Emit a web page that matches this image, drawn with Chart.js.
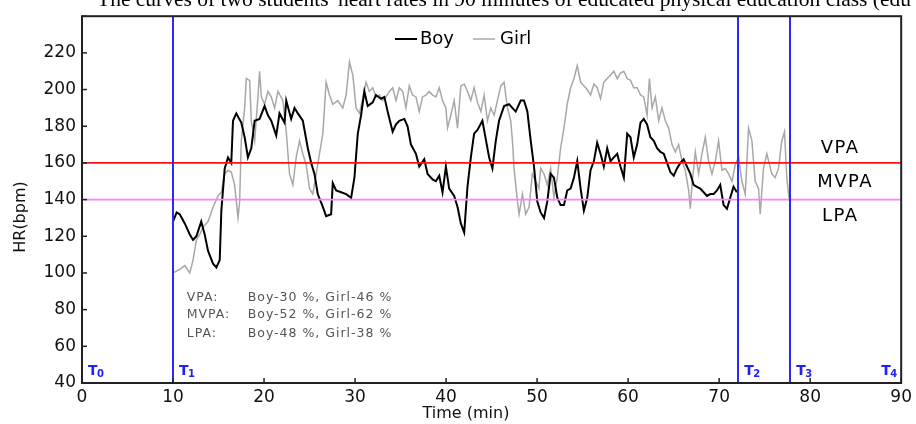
<!DOCTYPE html>
<html>
<head>
<meta charset="utf-8">
<script src="https://cdn.jsdelivr.net/npm/chart.js@4.4.1/dist/chart.umd.min.js"></script>
<style>
  body { margin: 0; background: #fff; }
  canvas { display: block; }
</style>
</head>
<body>
<canvas id="chart" width="916" height="424"></canvas>
<script>
// heart rate curves (time in min, HR in bpm)
const boyTime = [10.0, 10.4, 10.74, 11.29, 11.84, 12.2, 12.57, 13.1, 13.48, 13.85, 14.4, 14.76, 15.13, 15.31, 15.68, 16.04, 16.4, 16.59, 16.95, 17.5,
  17.87, 18.23, 18.6, 18.97, 19.51, 20.06, 20.43, 20.79, 21.34, 21.7, 22.25, 22.44, 22.98, 23.35, 23.72, 24.26, 24.81, 25.18, 25.54, 25.9,
  26.46, 26.82, 27.37, 27.55, 27.92, 28.47, 29.02, 29.57, 29.93, 30.3, 30.66, 31.02, 31.39, 31.94, 32.3, 32.85, 33.22, 33.58, 34.13, 34.5,
  34.86, 35.41, 35.77, 36.14, 36.69, 37.05, 37.6, 37.97, 38.52, 38.88, 39.25, 39.61, 39.98, 40.34, 40.89, 41.26, 41.62, 41.99, 42.35, 42.72,
  43.08, 43.45, 43.99, 44.36, 44.73, 45.09, 45.46, 45.82, 46.37, 46.92, 47.65, 48.2, 48.56, 48.93, 49.3, 49.66, 50.02, 50.39, 50.76, 51.12,
  51.49, 51.85, 52.22, 52.58, 52.95, 53.31, 53.68, 54.05, 54.41, 54.78, 55.14, 55.51, 55.87, 56.24, 56.6, 56.97, 57.33, 57.7, 58.07, 58.43,
  58.8, 59.16, 59.53, 59.9, 60.26, 60.62, 60.99, 61.36, 61.72, 62.08, 62.45, 62.82, 63.18, 63.55, 63.91, 64.28, 64.64, 65.01, 65.37, 65.74,
  66.1, 66.47, 66.84, 67.2, 67.56, 67.93, 68.3, 68.66, 69.03, 69.39, 69.76, 70.12, 70.49, 70.86, 71.22, 71.58, 71.95];
const boyHR = [128, 133, 132, 127, 121, 118, 120, 128, 121, 112, 105, 103, 107, 134, 157, 163, 160, 183, 187, 182,
  174, 163, 168, 183, 184, 191, 186, 183, 175, 187, 182, 194, 184, 190, 187, 183, 168, 160, 154, 143,
  136, 131, 132, 149, 145, 144, 143, 141, 152, 176, 186, 199, 191, 193, 197, 195, 196, 188, 177, 181,
  183, 184, 180, 170, 165, 158, 162, 154, 151, 150, 153, 144, 158, 146, 142, 136, 127, 122, 147, 163,
  176, 178, 183, 173, 163, 157, 172, 183, 191, 192, 188, 194, 194, 188, 172, 158, 139, 133, 130, 139,
  154, 152, 141, 137, 137, 145, 146, 152, 161, 146, 134, 141, 156, 161, 171, 165, 158, 168, 161, 163,
  165, 158, 152, 176, 174, 163, 170, 182, 184, 181, 174, 172, 168, 166, 165, 160, 155, 153, 157, 160,
  162, 158, 154, 148, 147, 146, 144, 142, 143, 143, 145, 148, 137, 135, 141, 147, 144];

const girlTime = [10.0, 10.74, 11.29, 11.84, 12.2, 12.57, 12.94, 13.3, 13.85, 14.4, 14.95, 15.31, 15.68, 16.04, 16.4, 16.77, 17.14, 17.32, 17.5, 17.87,
  18.05, 18.42, 18.6, 18.97, 19.33, 19.51, 19.7, 20.06, 20.43, 20.79, 21.16, 21.53, 22.07, 22.44, 22.8, 23.17, 23.53, 23.9, 24.26, 24.63,
  25.0, 25.36, 25.73, 26.09, 26.46, 26.82, 27.19, 27.55, 28.1, 28.65, 29.02, 29.38, 29.75, 30.11, 30.48, 30.84, 31.21, 31.57, 31.94, 32.3,
  32.67, 33.03, 33.4, 33.77, 34.13, 34.5, 34.86, 35.23, 35.59, 35.96, 36.32, 36.69, 37.05, 37.42, 37.79, 38.15, 38.52, 38.88, 39.25, 39.61,
  39.98, 40.16, 40.52, 40.89, 41.26, 41.62, 41.99, 42.35, 42.72, 43.08, 43.45, 43.82, 44.18, 44.55, 44.91, 45.28, 45.64, 46.01, 46.37, 46.74,
  47.1, 47.29, 47.47, 47.84, 48.02, 48.39, 48.75, 49.12, 49.48, 49.85, 50.2, 50.39, 50.76, 51.12, 51.49, 51.85, 52.22, 52.58, 52.95, 53.31,
  53.68, 54.05, 54.41, 54.78, 55.14, 55.51, 55.87, 56.24, 56.6, 56.97, 57.33, 57.7, 58.07, 58.43, 58.8, 59.16, 59.53, 59.9, 60.26, 60.62,
  60.99, 61.36, 61.72, 62.08, 62.34, 62.63, 62.99, 63.36, 63.72, 64.09, 64.46, 64.82, 65.19, 65.55, 65.92, 66.28, 66.65, 66.83, 67.02, 67.38,
  67.75, 68.11, 68.48, 68.84, 69.21, 69.58, 69.94, 70.31, 70.67, 71.04, 71.41, 71.77, 72.14, 72.5, 72.87, 73.23, 73.6, 73.96, 74.33, 74.51,
  74.87, 75.24, 75.79, 76.15, 76.52, 76.88, 77.18, 77.43, 77.72];
const girlHR = [100, 102, 104, 100, 107, 118, 121, 125, 128, 136, 142, 144, 154, 156, 155, 148, 130, 139, 172, 190,
  206, 205, 183, 172, 196, 210, 196, 192, 199, 196, 190, 199, 194, 177, 154, 148, 163, 172, 165, 159,
  146, 143, 154, 165, 176, 204, 197, 192, 194, 190, 197, 215, 208, 190, 187, 195, 204, 199, 201, 196,
  197, 194, 196, 199, 201, 194, 201, 199, 190, 202, 197, 196, 188, 196, 197, 199, 197, 196, 201, 194,
  190, 179, 186, 194, 179, 202, 203, 199, 194, 201, 193, 188, 197, 183, 190, 186, 194, 202, 204, 190,
  183, 172, 157, 139, 132, 143, 132, 136, 154, 150, 146, 157, 154, 148, 157, 141, 152, 168, 179, 192,
  201, 206, 213, 204, 202, 200, 197, 203, 201, 195, 204, 206, 208, 210, 206, 209, 210, 206, 205, 201,
  201, 197, 196, 186, 206, 190, 196, 183, 190, 183, 179, 170, 166, 170, 161, 156, 145, 135, 148, 166,
  154, 165, 174, 161, 154, 161, 172, 156, 157, 154, 150, 159, 163, 150, 143, 179, 172, 150, 146, 132,
  157, 165, 154, 152, 157, 172, 177, 152, 139];

const phaseLines = [10, 72.1, 77.8];          // T1, T2, T3
const phaseNames = ['0', '1', '2', '3', '4'];
const phaseAt = [0, 10, 72.1, 77.8, 90];
const vpaLevel = 160;
const lpaLevel = 140;
const zoneNames = ['VPA', 'MVPA', 'LPA'];
const zoneY = [168, 149.5, 131];
const shareRows = [
  ['VPA:', 'Boy-30 %, Girl-46 %'],
  ['MVPA:', 'Boy-52 %, Girl-62 %'],
  ['LPA:', 'Boy-48 %, Girl-38 %']
];
const shareY = [86.5, 77, 67];

const toPoints = (xs, ys) => xs.map((t, i) => ({x: t, y: ys[i]}));

const FONT = '"DejaVu Sans", sans-serif';

const extras = {
  id: 'extras',
  afterDatasetsDraw(chart) {
    const {ctx, chartArea: a, scales: {x, y}} = chart;
    ctx.save();
    ctx.lineWidth = 1.6;
    ctx.strokeStyle = '#ff1010';
    ctx.beginPath();
    ctx.moveTo(a.left, y.getPixelForValue(vpaLevel));
    ctx.lineTo(a.right, y.getPixelForValue(vpaLevel));
    ctx.stroke();
    ctx.strokeStyle = '#ff80ff';
    ctx.beginPath();
    ctx.moveTo(a.left, y.getPixelForValue(lpaLevel));
    ctx.lineTo(a.right, y.getPixelForValue(lpaLevel));
    ctx.stroke();
    ctx.strokeStyle = '#2a2aff';
    ctx.lineWidth = 2;
    phaseLines.forEach(t => {
      const px = Math.round(x.getPixelForValue(t));
      ctx.beginPath();
      ctx.moveTo(px, a.top);
      ctx.lineTo(px, a.bottom);
      ctx.stroke();
    });
    ctx.restore();
  },
  afterDraw(chart) {
    const {ctx, chartArea: a, scales: {x, y}} = chart;
    ctx.save();

    // frame and inward ticks
    ctx.strokeStyle = '#222';
    ctx.lineWidth = 2;
    ctx.strokeRect(a.left, a.top, a.right - a.left, a.bottom - a.top);
    ctx.lineWidth = 1.5;
    x.ticks.forEach(tk => {
      const px = x.getPixelForValue(tk.value);
      ctx.beginPath();
      ctx.moveTo(px, a.bottom);
      ctx.lineTo(px, a.bottom - 5);
      ctx.stroke();
    });
    y.ticks.forEach(tk => {
      const py = y.getPixelForValue(tk.value);
      ctx.beginPath();
      ctx.moveTo(a.left, py);
      ctx.lineTo(a.left + 5, py);
      ctx.stroke();
    });

    // cut-off caption at the very top
    ctx.fillStyle = '#000';
    ctx.font = '21.5px "Liberation Serif", serif';
    ctx.textBaseline = 'alphabetic';
    ctx.fillText("The curves of two students' heart rates in 90 minutes of educated physical education class (edu", 97, 6);

    // axis titles
    ctx.font = '16px ' + FONT;
    ctx.fillStyle = '#111';
    ctx.textAlign = 'center';
    ctx.textBaseline = 'middle';
    ctx.fillText('Time (min)', 466, 414);
    ctx.save();
    ctx.translate(21, 217);
    ctx.rotate(-Math.PI / 2);
    ctx.fillText('HR(bpm)', 0, 0);
    ctx.restore();

    // legend
    ctx.font = '18px ' + FONT;
    ctx.textAlign = 'left';
    ctx.lineWidth = 2;
    ctx.strokeStyle = '#000';
    ctx.beginPath(); ctx.moveTo(395, 39); ctx.lineTo(417, 39); ctx.stroke();
    ctx.fillStyle = '#000';
    ctx.fillText('Boy', 420, 39);
    ctx.strokeStyle = '#aaa';
    ctx.lineWidth = 1.5;
    ctx.beginPath(); ctx.moveTo(473, 39); ctx.lineTo(495, 39); ctx.stroke();
    ctx.fillText('Girl', 500, 39);

    // zone names on the right
    ctx.textAlign = 'center';
    ctx.letterSpacing = '1.5px';
    zoneNames.forEach((n, i) => {
      ctx.fillText(n, x.getPixelForValue(83.3) + (n === 'MVPA' ? 5 : 0), y.getPixelForValue(zoneY[i]));
    });

    // share of time in each zone
    ctx.font = '12.5px ' + FONT;
    ctx.letterSpacing = '1px';
    ctx.fillStyle = '#555';
    ctx.textAlign = 'left';
    shareRows.forEach((r, i) => {
      const py = y.getPixelForValue(shareY[i]);
      ctx.fillText(r[0], x.getPixelForValue(11.5), py);
      ctx.fillText(r[1], x.getPixelForValue(18.2), py);
    });
    ctx.letterSpacing = '0px';

    // T0..T4 phase marks
    ctx.fillStyle = '#2020ff';
    ctx.textBaseline = 'alphabetic';
    phaseAt.forEach((t, i) => {
      let px = x.getPixelForValue(t) + 6;
      if (i === phaseAt.length - 1) px = x.getPixelForValue(t) - 20;
      ctx.font = 'bold 14px ' + FONT;
      ctx.fillText('T', px, a.bottom - 8);
      ctx.font = 'bold 10px ' + FONT;
      ctx.fillText(phaseNames[i], px + 9, a.bottom - 6);
    });

    ctx.restore();
  }
};

const ctx = document.querySelector('#chart').getContext('2d');
const chart = new Chart(ctx, {
  type: 'line',
  data: {
    datasets: [{
      label: 'Boy',
      data: toPoints(boyTime, boyHR),
      borderColor: '#000',
      borderWidth: 2,
      pointRadius: 0,
      tension: 0
    },
    {
      label: 'Girl',
      data: toPoints(girlTime, girlHR),
      borderColor: '#a8a8a8',
      borderWidth: 1.5,
      pointRadius: 0,
      tension: 0
    }]
  },
  options: {
    responsive: false,
    animation: false,
    layout: { padding: { top: 13, right: 13, left: 0, bottom: 0 } },
    plugins: { legend: { display: false }, tooltip: { enabled: false } },
    scales: {
      x: {
        type: 'linear',
        min: 0,
        max: 90,
        grid: { display: false, drawTicks: false },
        border: { display: false },
        ticks: { stepSize: 10, padding: 4, color: '#111', font: { family: FONT, size: 17 }, maxRotation: 0 },
        afterFit: s => { s.height = 41; }
      },
      y: {
        min: 40,
        max: 240,
        grid: { display: false, drawTicks: false },
        border: { display: false },
        ticks: {
          stepSize: 20,
          padding: 6,
          color: '#111',
          font: { family: FONT, size: 17 },
          callback: v => v === 240 ? '' : v
        },
        afterFit: s => { s.width = 82; }
      }
    }
  },
  plugins: [extras]
});
</script>
</body>
</html>
